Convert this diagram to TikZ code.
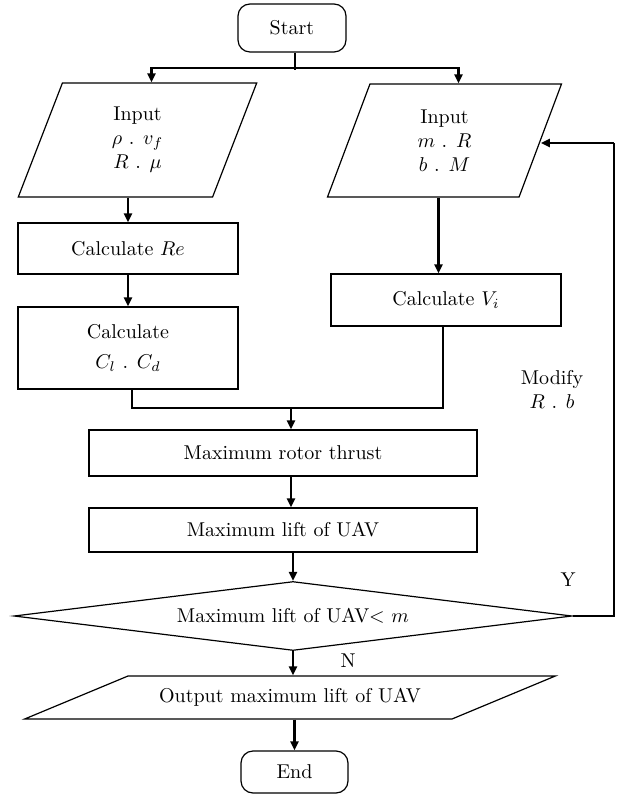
\documentclass[tikz,border=0pt]{standalone}
\usepackage{amsmath}
\usepackage{tikz}
\usetikzlibrary{positioning,shapes.geometric,arrows.meta}

\begin{document}
\begin{tikzpicture}[x=0.5pt,y=-0.5pt,
    caixa/.style={draw,line width=0.6pt,rectangle,inner sep=0pt,align=center},
    terminal/.style={caixa,rounded corners=6pt},
    entrada/.style={draw,line width=0.6pt,trapezium,trapezium stretches=true,inner sep=0pt,align=center},
    decisao/.style={draw,line width=0.6pt,diamond,aspect=8.09,inner sep=0pt,align=center},
    fluxo/.style={-{Triangle[length=4.5pt,width=4pt]},line width=1.2pt},
    liga/.style={line width=0.6pt}]

    \useasboundingbox (0,0) rectangle (624,795);

    % Início
    \node[terminal,minimum width=54pt,minimum height=24pt] (start) at (292,28) {Start};

    % Entradas
    \node[entrada,trapezium left angle=77,trapezium right angle=103,
          minimum width=119.5pt,minimum height=57pt] (inL) at (137.5,140)
          {Input\\ $\rho$ . $v_f$\\ $R$ . $\mu$};
    \node[entrada,trapezium left angle=76,trapezium right angle=104,
          minimum width=117.5pt,minimum height=56.5pt] (inR) at (444.5,140.5)
          {Input\\ $m$ . $R$\\ $b$ . $M$};

    % Cálculos
    \node[caixa,minimum width=110pt,minimum height=25.5pt] (re) at (128,248.5) {Calculate $Re$};
    \node[caixa,minimum width=110pt,minimum height=41pt] (cc) at (128,348) {Calculate\\[3pt] $C_l$ . $C_d$};
    \node[caixa,minimum width=115pt,minimum height=26pt] (vi) at (446,300) {Calculate $V_i$};

    % Empuxo e sustentação
    \node[caixa,minimum width=194pt,minimum height=23pt] (thrust) at (283,453) {Maximum rotor thrust};
    \node[caixa,minimum width=194pt,minimum height=22pt] (lift) at (283,530) {Maximum lift of UAV};

    % Decisão
    \node[decisao,minimum width=279pt,minimum height=34.5pt] (dec) at (293,616) {Maximum lift of UAV$<$ $m$};

    % Saída e fim
    \node[entrada,trapezium left angle=12.3,trapezium right angle=167.7,
          minimum width=266pt,minimum height=21.5pt] (out) at (290,697.5) {Output maximum lift of UAV};
    \node[terminal,minimum width=53.5pt,minimum height=21pt] (end) at (294.5,772) {End};

    % Rótulos
    \node[align=center] (mod) at (552,389) {Modify\\ $R$ . $b$};
    \node (yes) at (568,580) {Y};
    \node (no) at (348,661) {N};

    % Ligações
    \coordinate (fork) at (295,68);
    \draw[liga] (start.south -| fork) -- ([yshift=-1pt]fork);
    \draw[fluxo] (fork) -| ([xshift=7pt]inL.north);
    \draw[fluxo] (fork) -| ([xshift=7pt]inR.north);
    \draw[fluxo] (re.north |- inL.south) -- (re.north);
    \draw[fluxo] (re) -- (cc);
    \draw[fluxo] ([xshift=-3pt]inR.south) -- ([xshift=-3pt]inR.south |- vi.north);

    \coordinate (join) at (291,408);
    \draw[liga] ([xshift=2pt]cc.south) |- (join) -| ([xshift=-1.5pt]vi.south);
    \draw[fluxo] (join) -- (join |- thrust.north);
    \draw[fluxo] (join |- thrust.south) -- (join |- lift.north);
    \draw[fluxo] (dec.north |- lift.south) -- (dec.north);
    \draw[fluxo] (dec.south) -- (dec.south |- out.north);
    \draw[fluxo] (end.north |- out.south) -- (end.north);

    % Retorno
    \coordinate (back) at (614,143);
    \draw[liga] (dec.east) -| (back);
    \draw[fluxo] (back) -- (back -| inR.right side);

\end{tikzpicture}
\end{document}
